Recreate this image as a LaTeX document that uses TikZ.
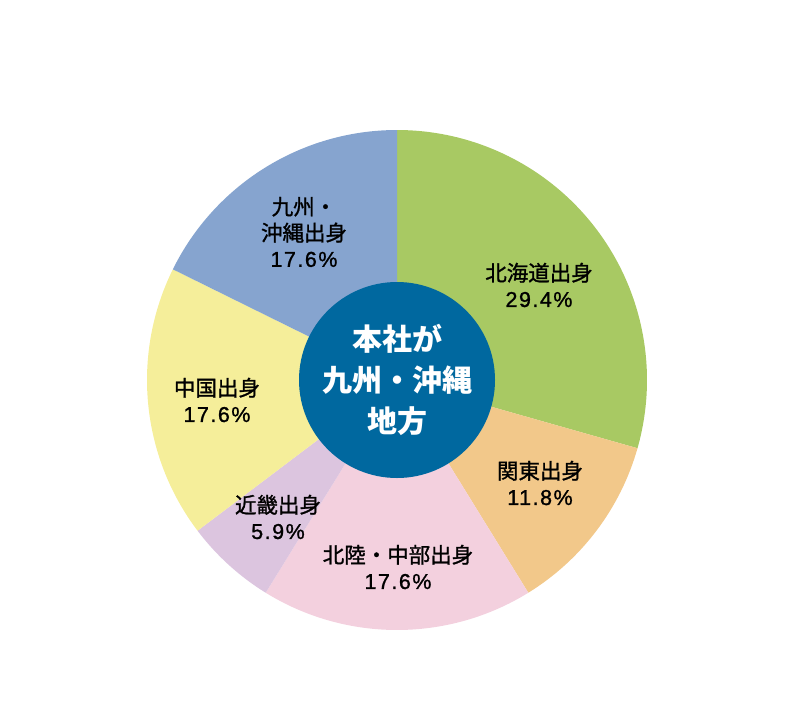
\documentclass[tikz,border=0pt]{standalone}
\usepackage{fontspec}
\setmainfont{Noto Sans CJK JP}
\newfontfamily\labelfont[FakeBold=1.2]{Noto Sans CJK JP}
\newfontfamily\pctfont[LetterSpace=7,FakeBold=1.2]{Liberation Sans}
\definecolor{hokkaido}{HTML}{A8C963}
\definecolor{kanto}{HTML}{F2C88A}
\definecolor{chubu}{HTML}{F3D0DE}
\definecolor{kinki}{HTML}{DCC5DF}
\definecolor{chugoku}{HTML}{F5EE9A}
\definecolor{kyushu}{HTML}{86A4CF}
\definecolor{hubblue}{HTML}{00689F}
\tikzset{
  share/.style={align=center, font=\labelfont\fontsize{21.5}{26}\selectfont},
  hub/.style={circle, fill=hubblue, minimum size=196pt, inner sep=0pt, align=center,
    text=white, font=\bfseries\fontsize{30}{41}\selectfont}
}

\begin{document}
\begin{tikzpicture}[x=1pt,y=1pt]
\path[use as bounding box] (0,0) rectangle (800,-712);
\coordinate (o) at (397,-380);

% slices, clockwise from the top
\foreach \from/\to/\col in {90/-15.84/hokkaido, -15.84/-58.32/kanto, -58.32/-121.68/chubu,
    -121.68/-142.92/kinki, -142.92/-206.28/chugoku, -206.28/-270/kyushu}
  \fill[\col] (o) -- ++(\from:250pt) arc[start angle=\from, end angle=\to, radius=250pt] -- cycle;

\node[hub] (hub) at (o) {本社が\\九州・沖縄\\地方};

\node[share] (hokkaidolbl) at ([shift={(142pt,95pt)}]o) {北海道出身\\\pctfont 29.4\%};
\node[share] (kantolbl) at ([shift={(143pt,-103pt)}]o) {関東出身\\\pctfont 11.8\%};
\node[share] (chubulbl) at ([shift={(1pt,-187pt)}]o) {北陸・中部出身\\\pctfont 17.6\%};
\node[share] (kinkilbl) at ([shift={(-119pt,-137pt)}]o) {近畿出身\\\pctfont 5.9\%};
\node[share] (chugokulbl) at ([shift={(-180pt,-20pt)}]o) {中国出身\\\pctfont 17.6\%};
\node[share] (kyushulbl) at ([shift={(-93pt,148pt)}]o) {九州・\\沖縄出身\\\pctfont 17.6\%};
\end{tikzpicture}
\end{document}
